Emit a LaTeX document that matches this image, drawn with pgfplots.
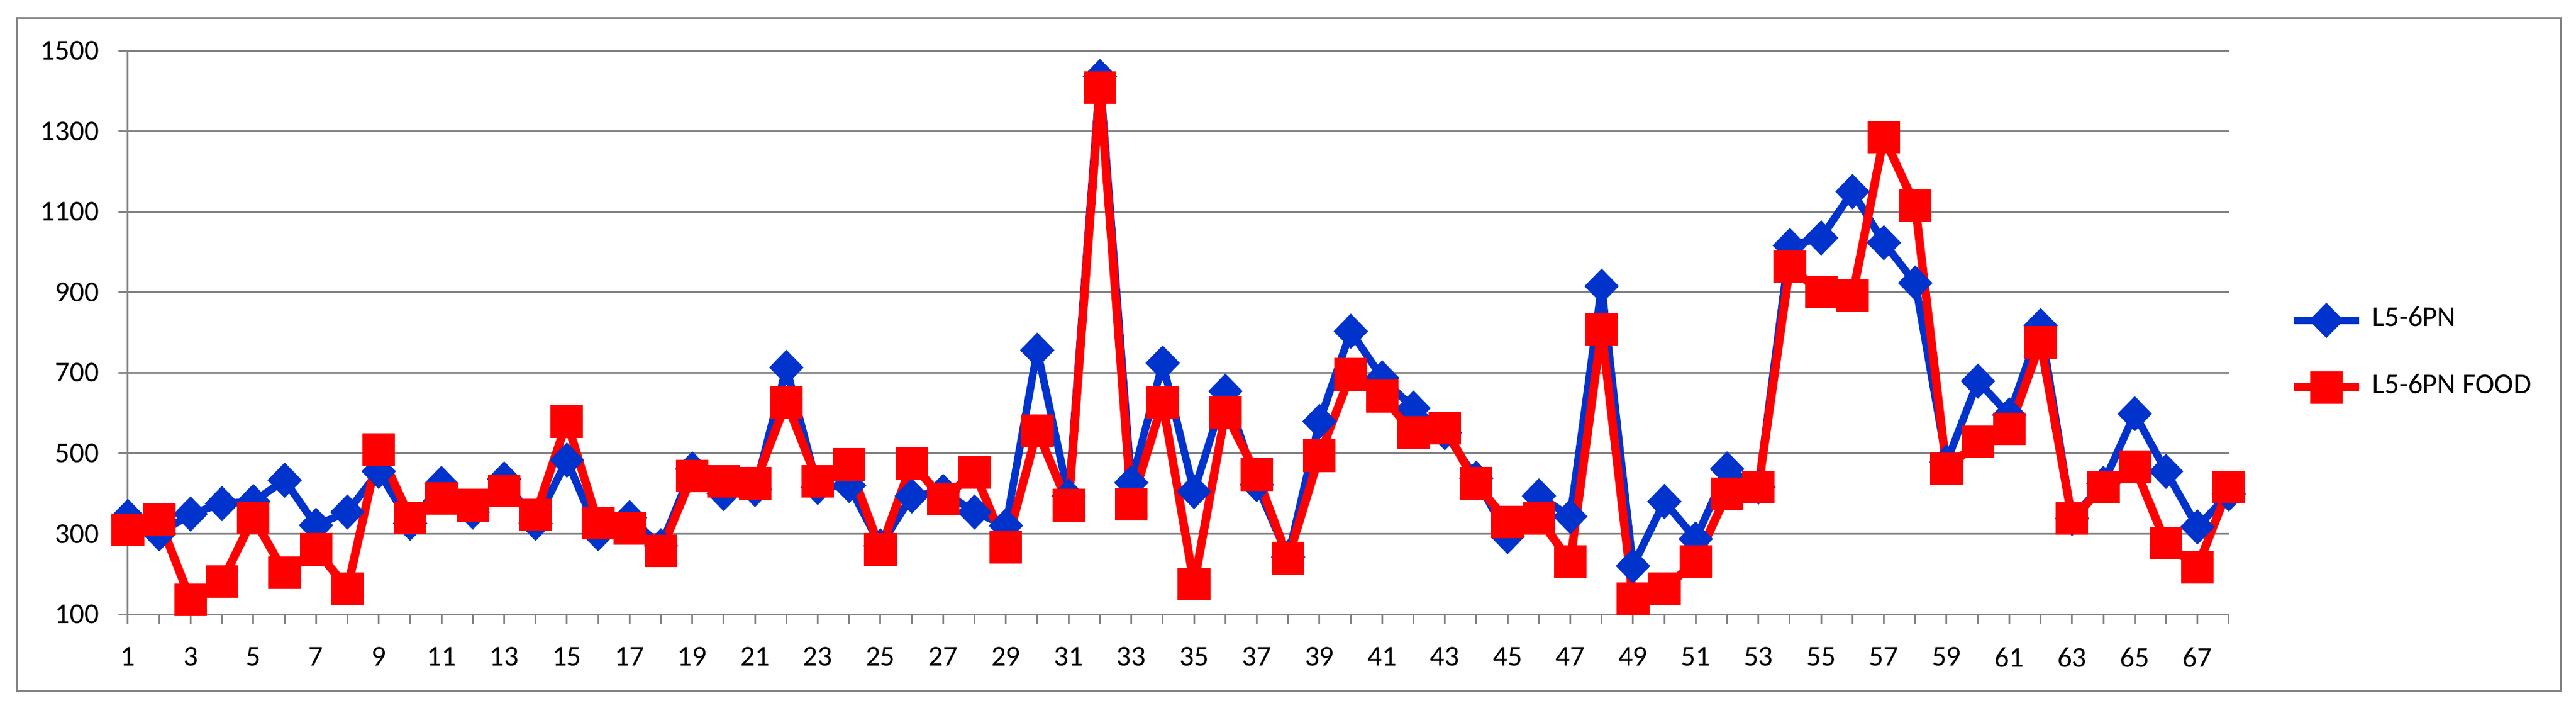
\documentclass[border=0pt]{standalone}
\usepackage{fontspec}
\setmainfont{Carlito}
\usepackage{pgfplots}
\pgfplotsset{compat=1.18}

\definecolor{serblue}{RGB}{0,51,204}
\definecolor{serred}{RGB}{255,0,0}
\definecolor{gridgray}{RGB}{134,134,134}

\begin{document}
\begin{tikzpicture}[font=\fontsize{6.1}{7.3}\selectfont]

\begin{axis}[
  scale only axis,
  width = 445.6pt,
  height = 119.5pt,
  xmin = 1, xmax = 68,
  ymin = 100, ymax = 1500,
  ytick = {100,300,...,1500},
  xtick = {1,3,...,67},
  minor xtick = {2,4,...,68},
  axis lines* = left,
  axis line style = {gridgray, line width=0.375pt, -},
  ymajorgrids,
  grid style = {gridgray, line width=0.375pt},
  minor grid style = {draw=none},
  major tick length = 2pt,
  minor tick length = 2pt,
  tick style = {gridgray, line width=0.375pt},
  tick align = outside,
  xtick pos = bottom,
  ytick pos = left,
  /pgf/number format/assume math mode = true,
  /pgf/number format/set thousands separator = {},
  xticklabel style = {yshift=-1.5pt},
  yticklabel style = {xshift=-0.6pt},
  clip = false,
  legend cell align = left,
  legend style = {
    at = {(axis description cs:1.0285,0.462)},
    anchor = west,
    draw = none,
    fill = none,
    inner sep = 0pt,
    row sep = 4.6pt,
    font = \fontsize{6.1}{7.3}\selectfont,
  },
  legend image code/.code = {
    \draw[mark repeat=2, mark phase=2, #1]
      plot coordinates {(0pt,0pt) (6.9pt,0pt) (13.8pt,0pt)};
  },
]

% L5-6PN
\addplot[
  serblue, line width=1.6pt, line join=round,
  mark=diamond*, mark size=2.6pt,
  mark options={xscale=1.3, solid, line join=miter},
] table [x=n, y=v] {
  n  v
  1  343
  2  300
  3  349
  4  375
  5  380
  6  433
  7  321
  8  354
  9  455
  10 326
  11 425
  12 354
  13 436
  14 326
  15 483
  16 300
  17 340
  18 270
  19 461
  20 400
  21 410
  22 713
  23 415
  24 420
  25 270
  26 394
  27 405
  28 354
  29 320
  30 756
  31 394
  32 1436
  33 427
  34 724
  35 405
  36 654
  37 422
  38 242
  39 579
  40 803
  41 687
  42 612
  43 551
  44 438
  45 293
  46 394
  47 343
  48 915
  49 220
  50 380
  51 287
  52 461
  53 416
  54 1016
  55 1035
  56 1150
  57 1023
  58 923
  59 478
  60 679
  61 595
  62 817
  63 338
  64 425
  65 598
  66 455
  67 317
  68 399
};
\addlegendentry{L5-6PN}

% L5-6PN FOOD
\addplot[
  serred, line width=1.8pt, line join=round,
  mark=square*, mark size=2.55pt,
  mark options={solid, line join=miter},
] table [x=n, y=v] {
  n  v
  1  310
  2  335
  3  136
  4  181
  5  340
  6  203
  7  261
  8  164
  9  509
  10 340
  11 388
  12 371
  13 407
  14 347
  15 579
  16 326
  17 313
  18 257
  19 444
  20 430
  21 425
  22 627
  23 430
  24 472
  25 261
  26 475
  27 386
  28 453
  29 267
  30 556
  31 371
  32 1408
  33 373
  34 627
  35 175
  36 601
  37 447
  38 239
  39 494
  40 696
  41 642
  42 551
  43 562
  44 425
  45 329
  46 338
  47 231
  48 808
  49 138
  50 164
  51 231
  52 399
  53 416
  54 963
  55 900
  56 892
  57 1285
  58 1116
  59 461
  60 528
  61 560
  62 775
  63 338
  64 416
  65 466
  66 276
  67 217
  68 416
};
\addlegendentry{L5-6PN FOOD}

\end{axis}

% outer frame of the chart
\draw[gridgray, line width=0.375pt]
  ([shift={(-23.625pt,-16.25pt)}]current axis.south west) rectangle
  ([shift={(516.1pt,126.4pt)}]current axis.south west);
\path[use as bounding box]
  ([shift={(-27.125pt,-19.75pt)}]current axis.south west) rectangle
  ([shift={(519.25pt,130.25pt)}]current axis.south west);

\end{tikzpicture}
\end{document}
